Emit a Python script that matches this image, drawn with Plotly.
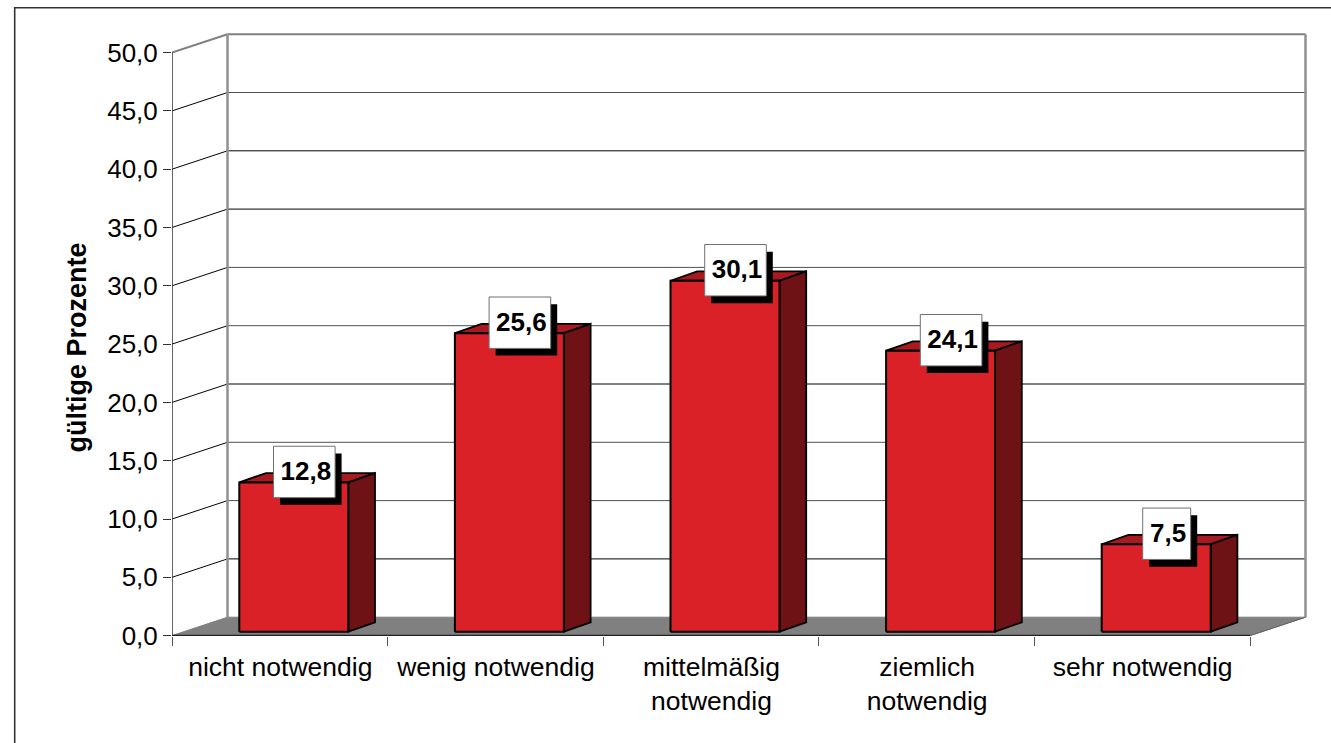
import plotly.graph_objects as go

categories = ["nicht notwendig", "wenig notwendig", "mittelmäßig<br>notwendig", "ziemlich<br>notwendig", "sehr notwendig"]
values = [12.8, 25.6, 30.1, 24.1, 7.5]
value_ticks = [0, 5, 10, 15, 20, 25, 30, 35, 40, 45, 50]
y_title = "gültige Prozente"

FONT = "Liberation Sans"
W, H = 1331, 743
L, R_PX, T, B_PX = 172, 1312, 30, 636
Y0_PX = 635.6
PX_CAT = 215.6
PX_VAL = 11.66

# pixel lengths converted to axis units
def ux(px):
    return px / PX_CAT
def uy(px):
    return px / PX_VAL

DEPTH_X, DEPTH_Y = ux(55.5), uy(18.4)
BAR_W = ux(109)
BAR_OFF_X, BAR_OFF_Y = ux(14), uy(3.9)
BAR_DX, BAR_DY = ux(26.7), uy(9.4)
N = len(categories)
DARK_GRID = {5, 20, 35, 40}

x_range = [0, (R_PX - L) / PX_CAT]
y_range = [-(B_PX - Y0_PX) / PX_VAL, (Y0_PX - T) / PX_VAL]

fig = go.Figure()

def poly(xs, ys, fill=None, line=None, width=0, xaxis="x"):
    fig.add_trace(go.Scatter(
        x=xs, y=ys, mode="lines", xaxis=xaxis, cliponaxis=False,
        fill="toself" if fill else None, fillcolor=fill,
        line=dict(color=line or "rgba(0,0,0,0)", width=width),
        hoverinfo="skip", showlegend=False))

# floor
poly([0, DEPTH_X, N + DEPTH_X, N, 0], [0, DEPTH_Y, DEPTH_Y, 0, 0], fill="#808080", line="#808080", width=1)

# gridlines on the side wall and back wall
for v in value_ticks[1:]:
    top = v == value_ticks[-1]
    c = "#808080" if top else "#000000"
    w = 2 if top else 1
    back = "#808080" if top else ("#000000" if v in DARK_GRID else "#505050")
    poly([0, DEPTH_X], [v, v + DEPTH_Y], line=c, width=w)
    poly([DEPTH_X, N + DEPTH_X], [v + DEPTH_Y, v + DEPTH_Y], line=back, width=w)

# back wall edges
poly([DEPTH_X, DEPTH_X], [DEPTH_Y, value_ticks[-1] + DEPTH_Y], line="#909090", width=2.5)
poly([N + DEPTH_X, N + DEPTH_X], [DEPTH_Y, value_ticks[-1] + DEPTH_Y], line="#909090", width=2.5)

# floor edge to the right
poly([N, N + DEPTH_X], [0, DEPTH_Y], line="#606060", width=1)

# axis lines
poly([0, 0], [0, value_ticks[-1]], line="#333333", width=1.5)
poly([0, N], [0, 0], line="#222222", width=1.8, xaxis="x2")

# 3D bars
for i, v in enumerate(values):
    x0 = i + 0.5 - BAR_W / 2 + BAR_OFF_X
    x1 = x0 + BAR_W
    y0 = BAR_OFF_Y
    y1 = v + BAR_OFF_Y
    # top face
    poly([x0, x1, x1 + BAR_DX, x0 + BAR_DX, x0], [y1, y1, y1 + BAR_DY, y1 + BAR_DY, y1],
         fill="#A81A20", line="#000000", width=1.8)
    # side face
    poly([x1, x1 + BAR_DX, x1 + BAR_DX, x1, x1], [y0, y0 + BAR_DY, y1 + BAR_DY, y1, y0],
         fill="#6E1216", line="#000000", width=1.8)
    # front face
    poly([x0, x1, x1, x0, x0], [y0, y0, y1, y1, y0],
         fill="#DA2128", line="#000000", width=2)

# value labels with drop shadow
for i, v in enumerate(values):
    label = f"{v:.1f}".replace(".", ",")
    cx = i + 0.5 + BAR_OFF_X + ux(10.5)
    cy = v + BAR_OFF_Y + uy(10.5)
    hw = ux(30.8 if len(label) > 3 else 24)
    hh = uy(25.7)
    sx, sy = ux(6.5), uy(7.2)
    poly([cx - hw + sx, cx + hw + sx, cx + hw + sx, cx - hw + sx, cx - hw + sx],
         [cy - hh - sy, cy - hh - sy, cy + hh - sy, cy + hh - sy, cy - hh - sy], fill="#000000")
    poly([cx - hw, cx + hw, cx + hw, cx - hw, cx - hw],
         [cy - hh, cy - hh, cy + hh, cy + hh, cy - hh], fill="#FFFFFF", line="#707070", width=1)
    fig.add_trace(go.Scatter(
        x=[cx + ux(1.5)], y=[cy - uy(1.5)], mode="text", text=[label], textposition="middle center",
        textfont=dict(family=FONT, size=26, color="#000000", weight="bold"),
        hoverinfo="skip", showlegend=False))

fig.update_layout(
    width=W, height=H, autosize=False,
    margin=dict(l=L, r=W - R_PX, t=T, b=H - B_PX, pad=0),
    paper_bgcolor="#FFFFFF", plot_bgcolor="#FFFFFF",
    separators=",.",
    font=dict(family=FONT, size=25, color="#000000"),
    showlegend=False,
    xaxis=dict(
        range=x_range, showgrid=False, zeroline=False, showline=False,
        tickmode="array", tickvals=[i + 0.5 + ux(0.5) for i in range(N)], ticktext=categories,
        ticks="", tickangle=0, tickfont=dict(family=FONT, size=26.5, color="#000000"),
        ticklabelstandoff=12,
    ),
    xaxis2=dict(
        range=x_range, overlaying="x", anchor="y", side="bottom",
        showgrid=False, zeroline=False, showline=False,
        tickmode="array", tickvals=list(range(N + 1)), showticklabels=False,
        ticks="outside", ticklen=9, tickwidth=1, tickcolor="#555555",
    ),
    yaxis=dict(
        range=y_range, showgrid=False, zeroline=False, showline=False,
        tickmode="array", tickvals=value_ticks, tickformat=".1f",
        ticks="outside", ticklen=8, tickwidth=1, tickcolor="#333333",
        tickfont=dict(family=FONT, size=26, color="#000000"),
    ),
    annotations=[dict(
        text=f"<b>{y_title}</b>", textangle=-90, xref="paper", yref="paper",
        x=(76 - L) / (R_PX - L), y=(B_PX - 347.5) / (B_PX - T),
        xanchor="center", yanchor="middle", showarrow=False,
        font=dict(family=FONT, size=27, color="#000000"))],
    shapes=[dict(
        type="path", xref="paper", yref="paper", layer="above",
        path=f"M {(14.7 - L) / (R_PX - L)} {(B_PX - H) / (B_PX - T)} "
             f"L {(14.7 - L) / (R_PX - L)} {(B_PX - 7.7) / (B_PX - T)} "
             f"L {(W - L) / (R_PX - L)} {(B_PX - 7.7) / (B_PX - T)}",
        line=dict(color="#333333", width=1.6))],
)

fig.write_html("out.html", config={"displayModeBar": False},
               post_script="document.body.style.margin='0';document.documentElement.style.overflow='hidden';")
